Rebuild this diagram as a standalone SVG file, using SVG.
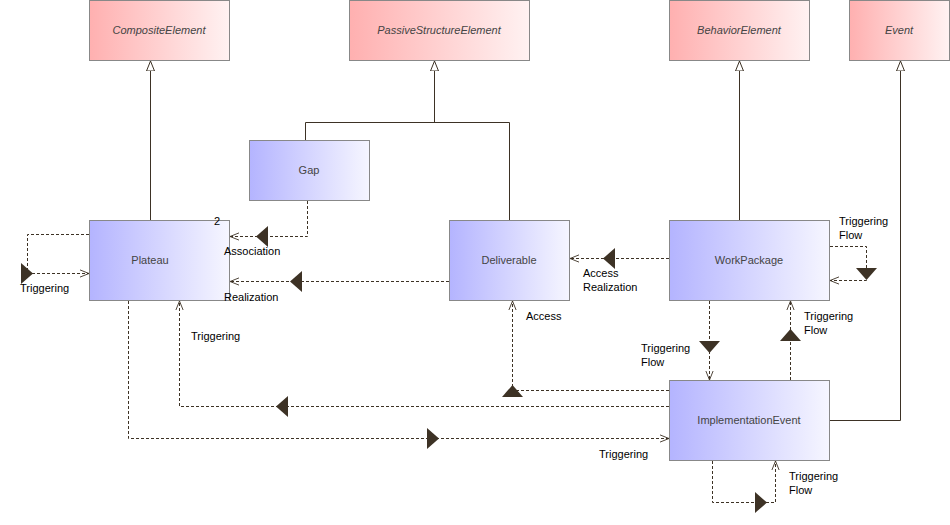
<svg xmlns="http://www.w3.org/2000/svg" width="950" height="525" viewBox="0 0 950 525">
<style>
.n{stroke:#888;stroke-width:1}
.t{font-family:"Liberation Sans",Arial,sans-serif;font-size:11px;fill:#444;text-anchor:middle}
.ti{font-family:"Liberation Sans",Arial,sans-serif;font-size:11px;fill:#444;text-anchor:middle;font-style:italic}
.l{font-family:"Liberation Sans",Arial,sans-serif;font-size:11px;fill:#000}
.g{fill:none;stroke:#3d3225;stroke-width:1}
.d{fill:none;stroke:#3d3225;stroke-width:1;stroke-dasharray:3,2}
.tri{fill:#3d3225}
</style>
<defs>
<linearGradient id="pk" x1="0" x2="1" y1="0" y2="0"><stop offset="0" stop-color="#ffb0b0"/><stop offset="1" stop-color="#fff2f2"/></linearGradient>
<linearGradient id="bl" x1="0" x2="1" y1="0" y2="0"><stop offset="0" stop-color="#b4b4ff"/><stop offset="1" stop-color="#f6f6ff"/></linearGradient>
<marker id="gen" viewBox="0 0 10 10" refX="10" refY="5" markerWidth="10" markerHeight="10" orient="auto" markerUnits="userSpaceOnUse"><path d="M0,1 L10,5 L0,9 Z" fill="#fff" stroke="#3d3225"/></marker>
<marker id="op" viewBox="0 0 10 10" refX="10" refY="5" markerWidth="9" markerHeight="9" orient="auto" markerUnits="userSpaceOnUse"><path d="M0,1 L10,5 L0,9" fill="none" stroke="#3d3225"/></marker>
</defs>
<g id="CompositeElement"><rect class="n" x="89.5" y="0.5" width="140" height="60" fill="url(#pk)"/><text class="ti" x="159" y="34">CompositeElement</text></g>
<g id="PassiveStructureElement"><rect class="n" x="349.5" y="0.5" width="180" height="60" fill="url(#pk)"/><text class="ti" x="439" y="34">PassiveStructureElement</text></g>
<g id="BehaviorElement"><rect class="n" x="669.5" y="0.5" width="140" height="60" fill="url(#pk)"/><text class="ti" x="739" y="34">BehaviorElement</text></g>
<g id="Event"><rect class="n" x="849.5" y="0.5" width="100" height="60" fill="url(#pk)"/><text class="ti" x="899" y="34">Event</text></g>
<g id="Gap"><rect class="n" x="249.5" y="140.5" width="120" height="60" fill="url(#bl)"/><text class="t" x="309" y="174">Gap</text></g>
<g id="Plateau"><rect class="n" x="89.5" y="220.5" width="140" height="80" fill="url(#bl)"/><text class="t" x="150" y="264">Plateau</text></g>
<g id="Deliverable"><rect class="n" x="449.5" y="220.5" width="120" height="80" fill="url(#bl)"/><text class="t" x="509" y="264">Deliverable</text></g>
<g id="WorkPackage"><rect class="n" x="669.5" y="220.5" width="160" height="80" fill="url(#bl)"/><text class="t" x="749" y="264">WorkPackage</text></g>
<g id="ImplementationEvent"><rect class="n" x="669.5" y="380.5" width="160" height="80" fill="url(#bl)"/><text class="t" x="749" y="424">ImplementationEvent</text></g>
<g id="connectors">
<path class="g" d="M150.5,220 V61" marker-end="url(#gen)"/>
<path class="g" d="M305.5,140 V122.5 H509.5 V220 M434.5,122.5 V61" />
<path class="g" d="M434.5,70 V61" marker-end="url(#gen)"/>
<path class="g" d="M739.5,220 V61" marker-end="url(#gen)"/>
<path class="g" d="M830,420.5 H900.5 V61" marker-end="url(#gen)"/>
<path class="d" d="M89,234.5 H27.5 V273.5 H89" marker-end="url(#op)"/>
<path class="tri" d="M21,263 L33,273.5 L21,284 Z"/>
<text class="l" x="20" y="292">Triggering</text>
<path class="d" d="M307.5,201 V236.5 H230" marker-end="url(#op)"/>
<path class="tri" d="M268,226 L256,236.5 L268,247 Z"/>
<text class="l" x="214" y="225">2</text>
<text class="l" x="224" y="255">Association</text>
<path class="d" d="M449,281.5 H230" marker-end="url(#op)"/>
<path class="tri" d="M302,271 L290,281.5 L302,292 Z"/>
<text class="l" x="224" y="301">Realization</text>
<path class="d" d="M669,258.5 H570" marker-end="url(#op)"/>
<path class="tri" d="M615,248 L603,258.5 L615,269 Z"/>
<text class="l" x="583" y="277">Access</text>
<text class="l" x="583" y="291">Realization</text>
<path class="d" d="M830,246.5 H866.5 V280.5 H830" marker-end="url(#op)"/>
<path class="tri" d="M856,268 L866.5,280 L877,268 Z"/>
<text class="l" x="839" y="225">Triggering</text>
<text class="l" x="839" y="239">Flow</text>
<path class="d" d="M709.5,301 V380" marker-end="url(#op)"/>
<path class="tri" d="M699,341 L709.5,353 L720,341 Z"/>
<text class="l" x="641" y="352">Triggering</text>
<text class="l" x="641" y="366">Flow</text>
<path class="d" d="M790.5,380 V301" marker-end="url(#op)"/>
<path class="tri" d="M780,341 L790.5,329 L801,341 Z"/>
<text class="l" x="804" y="320">Triggering</text>
<text class="l" x="804" y="334">Flow</text>
<path class="d" d="M669,390.5 H512.5 V301" marker-end="url(#op)"/>
<path class="tri" d="M502,397 L512.5,385 L523,397 Z"/>
<text class="l" x="526" y="320">Access</text>
<path class="d" d="M669,406.5 H179.5 V301" marker-end="url(#op)"/>
<path class="tri" d="M288,396 L276,406.5 L288,417 Z"/>
<text class="l" x="191" y="340">Triggering</text>
<path class="d" d="M128.5,301 V438.5 H669" marker-end="url(#op)"/>
<path class="tri" d="M427,428 L439,438.5 L427,449 Z"/>
<text class="l" x="599" y="458">Triggering</text>
<path class="d" d="M712.5,461 V502.5 H775.5 V461" marker-end="url(#op)"/>
<path class="tri" d="M755,492 L767,502.5 L755,513 Z"/>
<text class="l" x="789" y="480">Triggering</text>
<text class="l" x="789" y="494">Flow</text>
</g>
</svg>
